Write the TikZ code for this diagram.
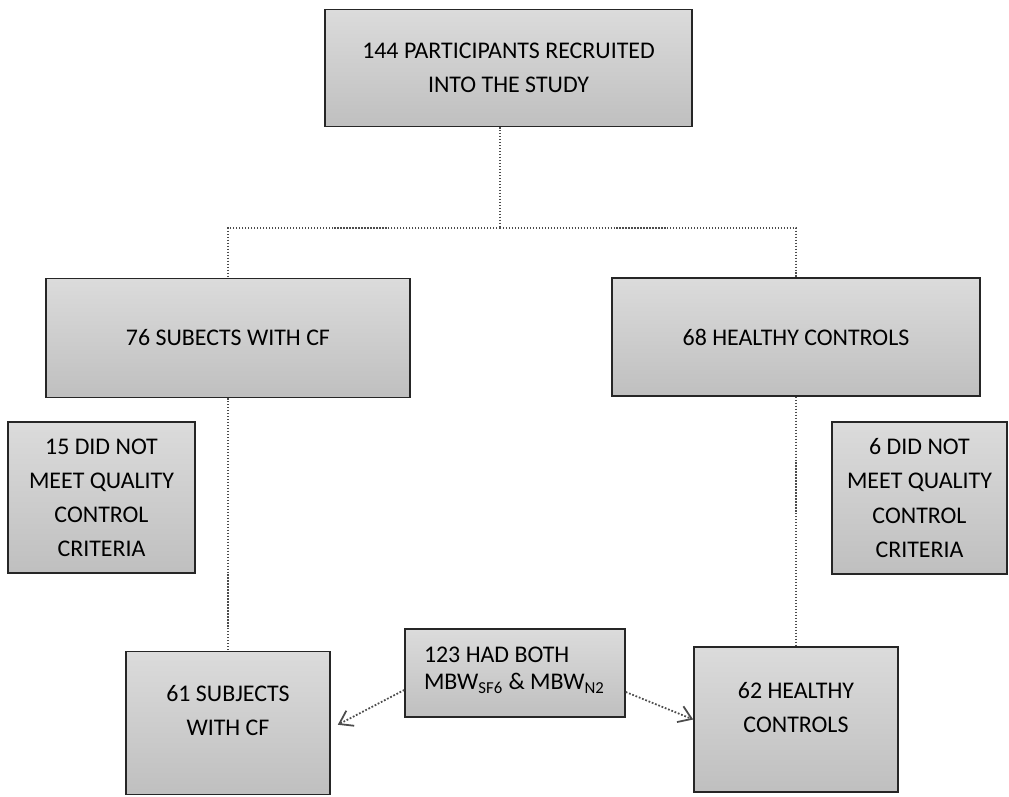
\documentclass[tikz,border=0pt]{standalone}
\usepackage{fontspec}
\setmainfont{Carlito}
\usetikzlibrary{arrows.meta, positioning}

\begin{document}
\begin{tikzpicture}[x=0.02cm, y=-0.02cm,
    box/.style={rectangle, draw=black!85, line width=0.9pt, top color=gray!28, bottom color=gray!50, align=center, inner sep=2pt, font=\fontsize{13.6}{19.4}\selectfont},
    link/.style={densely dotted, line width=0.7pt, draw=black!70},
    arrow/.style={link, line width=1pt, -{Straight Barb[length=2.5mm, width=3.4mm]}}
]
\useasboundingbox (0,0) rectangle (1009,797);

% Boxes
\node[box, minimum width=7.34cm, minimum height=2.34cm] (recruit) at (508.5,68) {144 PARTICIPANTS RECRUITED\\INTO THE STUDY};
\node[box, minimum width=7.28cm, minimum height=2.38cm] (cf) at (228,338) {76 SUBECTS WITH CF};
\node[box, minimum width=7.36cm, minimum height=2.36cm] (hc) at (796,337) {68 HEALTHY CONTROLS};
\node[box, minimum width=3.74cm, minimum height=3.02cm] (excf) at (101.5,497.5) {15 DID NOT\\MEET QUALITY\\CONTROL\\CRITERIA};
\node[box, minimum width=3.5cm, minimum height=3.04cm] (exhc) at (919.5,498) {6 DID NOT\\MEET QUALITY\\CONTROL\\CRITERIA};
\node[box, minimum width=4.08cm, minimum height=2.86cm, text depth=0.5cm] (cffinal) at (228,723) {61 SUBJECTS\\WITH CF};
\node[box, minimum width=4.08cm, minimum height=2.9cm, text depth=0.5cm] (hcfinal) at (796,719.5) {62 HEALTHY\\CONTROLS};
\node[box, align=flush left, minimum width=4.4cm, minimum height=1.76cm, text width=3.64cm, text depth=0.75cm, font=\fontsize{13.6}{15.6}\selectfont] (both) at (515,673) {123 HAD BOTH\\MBW\textsubscript{SF6} \& MBW\textsubscript{N2}};

% Connectors
\coordinate (split) at (500,228);
\draw[link] (recruit.south -| split) -- (split);
\draw[link] (split) -| (cf.north);
\draw[link] (split) -| (hc.north);
\draw[link] (cf.south) -- (cffinal.north);
\draw[link] (hc.south) -- (hcfinal.north);
\draw[arrow] (both.west |- 0,690) -- ([xshift=4pt, yshift=-1pt]cffinal.east);
\draw[arrow] (both.east |- 0,692) -- (hcfinal.west);

\end{tikzpicture}
\end{document}
